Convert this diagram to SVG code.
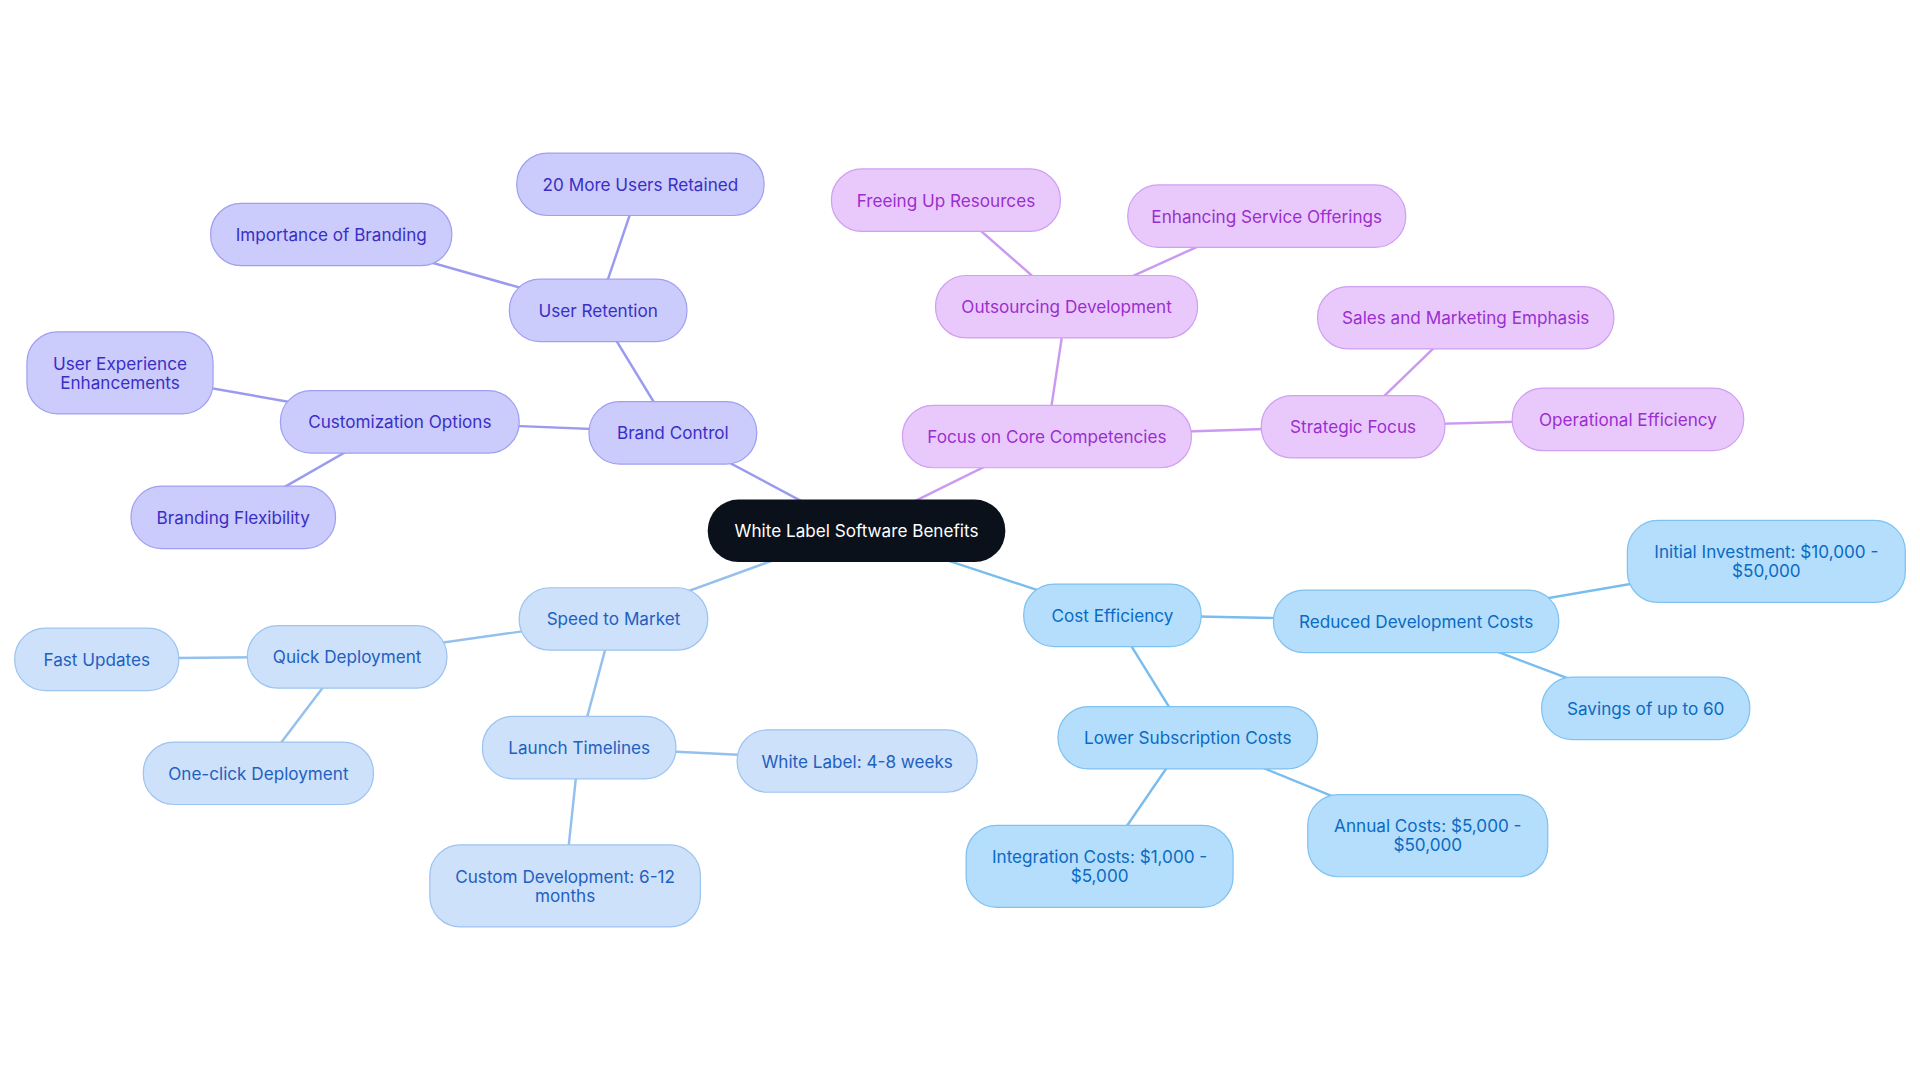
<svg xmlns="http://www.w3.org/2000/svg" width="1920" height="1083" viewBox="0 0 1920 1083">
<style>
text{font-family:Inter,"Liberation Sans",sans-serif;font-size:14px;text-anchor:middle;dominant-baseline:central}
.a rect{fill:#cbcbfc;stroke:#9f9ff2}.a text{fill:#3a2fc4}
.b rect{fill:#e9c9fc;stroke:#cf9ff2}.b text{fill:#9a2fcf}
.c rect{fill:#cde1fa;stroke:#9dc3f0}.c text{fill:#1f60c0}
.d rect{fill:#b4defc;stroke:#7fc1f0}.d text{fill:#0b6ac2}
rect{stroke-width:1}
#edges line{stroke-width:2}
</style>
<rect width="1920" height="1083" fill="#fff"/>
<g transform="scale(1.2245)">
<g id="edges">
<g stroke="#9a9af0"><line x1="699" y1="433" x2="549" y2="353"/><line x1="549" y1="353" x2="488" y2="253"/><line x1="488" y1="253" x2="523" y2="150"/><line x1="488" y1="253" x2="270" y2="191"/><line x1="549" y1="353" x2="326" y2="344"/><line x1="326" y1="344" x2="98" y2="304"/><line x1="326" y1="344" x2="190" y2="422"/></g>
<g stroke="#cc99f0"><line x1="699" y1="433" x2="855" y2="356"/><line x1="855" y1="356" x2="871" y2="250"/><line x1="871" y1="250" x2="772" y2="163"/><line x1="871" y1="250" x2="1034" y2="176"/><line x1="855" y1="356" x2="1105" y2="348"/><line x1="1105" y1="348" x2="1197" y2="259"/><line x1="1105" y1="348" x2="1329" y2="342"/></g>
<g stroke="#94c0ee"><line x1="699" y1="433" x2="501" y2="505"/><line x1="501" y1="505" x2="283" y2="536"/><line x1="283" y1="536" x2="79" y2="538"/><line x1="283" y1="536" x2="211" y2="631"/><line x1="501" y1="505" x2="473" y2="610"/><line x1="473" y1="610" x2="700" y2="621"/><line x1="473" y1="610" x2="461" y2="723"/></g>
<g stroke="#79bdee"><line x1="699" y1="433" x2="908" y2="502"/><line x1="908" y1="502" x2="1156" y2="507"/><line x1="1156" y1="507" x2="1442" y2="458"/><line x1="1156" y1="507" x2="1344" y2="578"/><line x1="908" y1="502" x2="970" y2="602"/><line x1="970" y1="602" x2="898" y2="707"/><line x1="970" y1="602" x2="1166" y2="682"/></g>
</g>
<g id="root"><rect x="578" y="408" width="243" height="51" rx="25" fill="#0b111b"/><text x="699.5" y="433.5" fill="#fff">White Label Software Benefits</text></g>
<g class="a">
<g id="n1"><rect x="481" y="328" width="137" height="51" rx="25"/><text x="549.5" y="353.5">Brand Control</text></g>
<g id="n2"><rect x="416" y="228" width="145" height="51" rx="25"/><text x="488.5" y="253.5">User Retention</text></g>
<g id="n3"><rect x="422" y="125" width="202" height="51" rx="25"/><text x="523" y="150.5">20 More Users Retained</text></g>
<g id="n4"><rect x="172" y="166" width="197" height="51" rx="25"/><text x="270.5" y="191.5">Importance of Branding</text></g>
<g id="n5"><rect x="229" y="319" width="195" height="51" rx="25"/><text x="326.5" y="344.5">Customization Options</text></g>
<g id="n6"><rect x="22" y="271" width="152" height="67" rx="25"/><text x="98" y="296.5">User Experience</text><text x="98" y="312">Enhancements</text></g>
<g id="n7"><rect x="107" y="397" width="167" height="51" rx="25"/><text x="190.5" y="422.5">Branding Flexibility</text></g>
</g>
<g class="b">
<g id="n8"><rect x="737" y="331" width="236" height="51" rx="25"/><text x="855" y="356.5">Focus on Core Competencies</text></g>
<g id="n9"><rect x="764" y="225" width="214" height="51" rx="25"/><text x="871" y="250.5">Outsourcing Development</text></g>
<g id="n10"><rect x="679" y="138" width="187" height="51" rx="25"/><text x="772.5" y="163.5">Freeing Up Resources</text></g>
<g id="n11"><rect x="921" y="151" width="227" height="51" rx="25"/><text x="1034.5" y="176.5">Enhancing Service Offerings</text></g>
<g id="n12"><rect x="1030" y="323" width="150" height="51" rx="25"/><text x="1105" y="348.5">Strategic Focus</text></g>
<g id="n13"><rect x="1076" y="234" width="242" height="51" rx="25"/><text x="1197" y="259.5">Sales and Marketing Emphasis</text></g>
<g id="n14"><rect x="1235" y="317" width="189" height="51" rx="25"/><text x="1329.5" y="342.5">Operational Efficiency</text></g>
</g>
<g class="c">
<g id="n15"><rect x="424" y="480" width="154" height="51" rx="25"/><text x="501" y="505.5">Speed to Market</text></g>
<g id="n16"><rect x="202" y="511" width="163" height="51" rx="25"/><text x="283.5" y="536.5">Quick Deployment</text></g>
<g id="n17"><rect x="12" y="513" width="134" height="51" rx="25"/><text x="79" y="538.5">Fast Updates</text></g>
<g id="n18"><rect x="117" y="606" width="188" height="51" rx="25"/><text x="211" y="631.5">One-click Deployment</text></g>
<g id="n19"><rect x="394" y="585" width="158" height="51" rx="25"/><text x="473" y="610.5">Launch Timelines</text></g>
<g id="n20"><rect x="602" y="596" width="196" height="51" rx="25"/><text x="700" y="621.5">White Label: 4-8 weeks</text></g>
<g id="n21"><rect x="351" y="690" width="221" height="67" rx="25"/><text x="461.5" y="715.5">Custom Development: 6-12</text><text x="461.5" y="731">months</text></g>
</g>
<g class="d">
<g id="n22"><rect x="836" y="477" width="145" height="51" rx="25"/><text x="908.5" y="502.5">Cost Efficiency</text></g>
<g id="n23"><rect x="1040" y="482" width="233" height="51" rx="25"/><text x="1156.5" y="507.5">Reduced Development Costs</text></g>
<g id="n24"><rect x="1329" y="425" width="227" height="67" rx="25"/><text x="1442.5" y="450.5">Initial Investment: $10,000 -</text><text x="1442.5" y="466">$50,000</text></g>
<g id="n25"><rect x="1259" y="553" width="170" height="51" rx="25"/><text x="1344" y="578.5">Savings of up to 60</text></g>
<g id="n26"><rect x="864" y="577" width="212" height="51" rx="25"/><text x="970" y="602.5">Lower Subscription Costs</text></g>
<g id="n27"><rect x="789" y="674" width="218" height="67" rx="25"/><text x="898" y="699.5">Integration Costs: $1,000 -</text><text x="898" y="715">$5,000</text></g>
<g id="n28"><rect x="1068" y="649" width="196" height="67" rx="25"/><text x="1166" y="674.5">Annual Costs: $5,000 -</text><text x="1166" y="690">$50,000</text></g>
</g>
</g>
</svg>
